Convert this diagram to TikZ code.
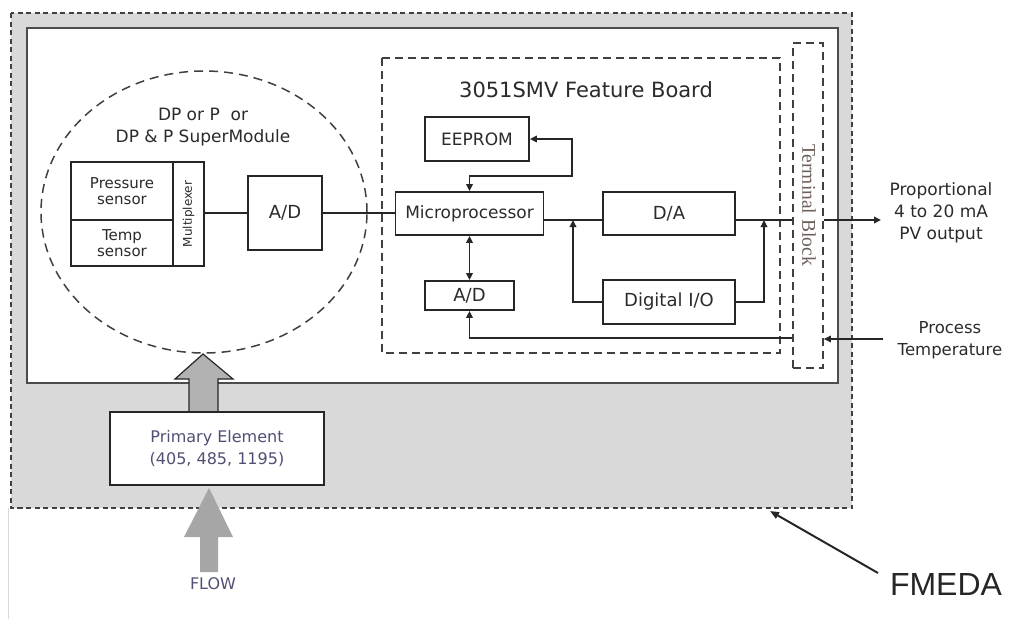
\documentclass[tikz,border=0pt]{standalone}
\usepackage{fontspec}
\setmainfont{DejaVu Sans}
\newfontfamily\serifF{Liberation Serif}
\newfontfamily\arialF{Liberation Sans}
\usetikzlibrary{arrows.meta,shapes.geometric}
\definecolor{txt}{HTML}{2B2B2B}
\definecolor{linec}{HTML}{262626}
\definecolor{bgray}{HTML}{D9D9D9}
\definecolor{purp}{HTML}{505075}
\definecolor{brownish}{HTML}{6E6058}
\begin{document}
\begin{tikzpicture}[x=1pt,y=-1pt,
  >={Triangle[length=7pt,width=6.5pt]},
  box/.style={draw=linec, line width=1.8pt, fill=white, inner sep=0pt, text=txt, align=center},
  fs/.style={font=\fontsize{#1}{#1}\selectfont\setlength\baselineskip{1.3em}},
  conn/.style={draw=linec, line width=1.7pt},
  lbl/.style={text=txt, align=center, inner sep=0pt}
]
\useasboundingbox (0,0) rectangle (1010,619);
% thin left artifact line
\draw[color=black!15, line width=0.8pt] (8,508) -- (8,619);
% outer FMEDA boundary
\draw[fill=bgray, draw=black!75, line width=1.7pt, dash pattern=on 5pt off 3.5pt] (11,13) rectangle (852,508);
% inner device box
\draw[fill=white, draw=black!70, line width=2.8pt] (27,28) rectangle (838,383);
% SuperModule ellipse
\node[ellipse, draw=black!75, line width=1.5pt, dash pattern=on 9pt off 6pt, minimum width=326pt, minimum height=282pt, inner sep=0pt] (sm) at (204,212) {};
\node[lbl, fs=17] (smt) at (203,127) {DP or P\ \ or\\DP \& P SuperModule};
% sensors
\node[box, minimum width=102pt, minimum height=58pt, fs=15] (ps) at (122,191) {Pressure\\[-3pt]sensor};
\node[box, minimum width=102pt, minimum height=46pt, fs=15] (ts) at (122,243) {Temp\\[-3pt]sensor};
\node[box, minimum width=31pt, minimum height=104pt] (mux) at (188.5,214) {};
\node[lbl, rotate=90, fs=12] (muxt) at (mux.center) {Multiplexer};
\node[box, minimum width=74pt, minimum height=74pt, fs=18] (adl) at (285,213) {A/D};
% feature board
\draw[draw=black!75, line width=1.6pt, dash pattern=on 8pt off 5pt] (382,58) rectangle (780,353);
\node[lbl, fs=21] (fbt) at (586,90) {3051SMV Feature Board};
\node[box, minimum width=104pt, minimum height=44pt, fs=17] (eeprom) at (477,139) {EEPROM};
\node[box, minimum width=148pt, minimum height=43pt, fs=17] (micro) at (469.5,213.5) {Microprocessor};
\node[box, minimum width=132pt, minimum height=43pt, fs=18] (da) at (669,213.5) {D/A};
\node[box, minimum width=89pt, minimum height=29pt, fs=18] (adr) at (469.5,295.5) {A/D};
\node[box, minimum width=132pt, minimum height=44pt, fs=18] (dio) at (669,302) {Digital I/O};
% terminal block
\node[draw=black!75, line width=1.6pt, dash pattern=on 8pt off 5pt, minimum width=30pt, minimum height=325pt, inner sep=0pt] (tb) at (808,205.5) {};
\node[rotate=-90, inner sep=0pt, text=brownish, font=\serifF\fontsize{19.5}{22}\selectfont] (tbt) at (809,205) {Terminal Block};
% connectors
\coordinate (j1) at (573,220);
\coordinate (j2) at (764,220);
\coordinate (ee) at (572,176);
\draw[conn] (mux.east |- adl.west) -- (adl.west);
\draw[conn] (adl.east) -- (adl.east -| micro.west);
\draw[conn] (micro.east |- j1) -- (da.west |- j1);
\draw[conn,<->] (eeprom.east) -| (ee) -| (micro.north);
\draw[conn,<->] (micro.south) -- (adr.north);
\draw[conn,->] (dio.west) -| (j1);
\draw[conn,->] (dio.east) -| (j2);
\draw[conn] (da.east |- j2) -- (tb.west |- j2);
% outputs
\node[lbl, fs=17] (out) at (941,213) {Proportional\\4 to 20 mA\\PV output};
\coordinate (outend) at (881,220);
\draw[conn,->] (tb.east |- j2) -- (outend);
\node[lbl, fs=16.5] (ptemp) at (950,340) {Process\\Temperature};
\coordinate (ptin) at (883,339);
\draw[conn,->] (ptin) -- (tb.east |- ptin);
\draw[conn,->] (tb.west |- 0,338) -| (adr.south);
% primary element arrow into SuperModule
\draw[fill=black!30, draw=linec, line width=1.2pt, line join=miter]
  (189,412) -- (189,379) -- (175,379) -- (203,354) -- (233,379) -- (218,379) -- (218,412);
\node[box, minimum width=214pt, minimum height=73pt, text=purp, fs=16] (prim) at (217,448.5) {Primary Element\\[2pt](405, 485, 1195)};
% flow arrow
\fill[black!35] (200,572) -- (200,537) -- (184,537) -- (209,488) -- (233,537) -- (218,537) -- (218,572) -- cycle;
\node[text=purp, inner sep=0pt, fs=16] (flow) at (213,584) {FLOW};
% FMEDA
\node[inner sep=0pt, text=black!85, font=\arialF\fontsize{32}{36}\selectfont] (fmeda) at (946,584) {FMEDA};
\coordinate (fmstart) at (878,573);
\coordinate (fmend) at (770,511);
\draw[line width=2pt, draw=black!85, -{Triangle[length=9pt,width=7pt]}] (fmstart) -- (fmend);
\end{tikzpicture}
\end{document}
